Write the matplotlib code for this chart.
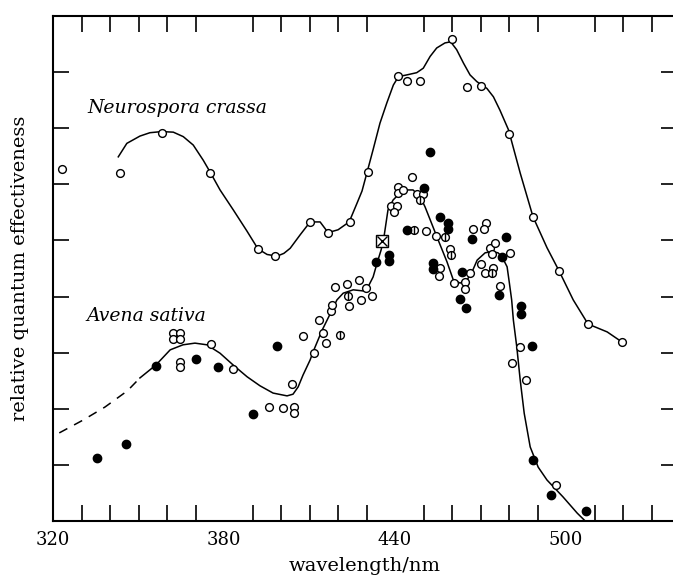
import matplotlib
matplotlib.use('Agg')
import matplotlib.pyplot as plt

plt.rcParams['font.family'] = ['DejaVu Serif']

# Neurospora crassa: measured points and fitted curve
neuro_x = [323.2, 343.5, 358.2, 375.1, 391.9, 397.9, 410.2, 416.5, 424.2, 430.5, 441.1,
           444.2, 448.8, 460.0, 465.3, 470.2, 480.0, 488.4, 497.5, 507.7, 519.6]
neuro_y = [6.27, 6.20, 6.92, 6.20, 4.85, 4.72, 5.33, 5.13, 5.33, 6.22, 7.93,
           7.84, 7.84, 8.59, 7.74, 7.75, 6.90, 5.42, 4.46, 3.51, 3.19]

neuro_curve_x = [342.9, 345.9, 350.5, 354.0, 358.1, 362.2, 365.7, 369.2, 372.7, 375.1, 378.6,
                 383.3, 388.0, 391.9, 395.1, 398.6, 401.0, 403.2, 406.7, 410.2, 413.7,
                 416.5, 420.0, 423.9, 426.7, 428.4, 430.2, 432.3, 434.7, 437.1, 439.4,
                 441.2, 444.1, 447.6, 449.9, 452.3, 454.6, 457.5, 459.5, 461.6, 464.0,
                 466.3, 468.7, 470.4, 472.2, 474.5, 476.8, 479.8, 483.9, 488.4, 493.3,
                 497.5, 502.5, 507.7, 514.4, 519.6]
neuro_curve_y = [6.49, 6.73, 6.86, 6.92, 6.94, 6.93, 6.85, 6.70, 6.43, 6.22, 5.90,
                 5.54, 5.17, 4.85, 4.75, 4.72, 4.77, 4.86, 5.10, 5.33, 5.33,
                 5.14, 5.19, 5.33, 5.67, 5.88, 6.22, 6.62, 7.09, 7.45, 7.77,
                 7.92, 7.95, 7.99, 8.07, 8.28, 8.43, 8.52, 8.54, 8.40, 8.16,
                 7.95, 7.83, 7.77, 7.71, 7.56, 7.32, 6.97, 6.20, 5.42, 4.87,
                 4.46, 3.94, 3.51, 3.37, 3.19]

# Avena sativa: fitted curve (dashed extrapolation + solid part)
avena_dash_x = [322.2, 330.6, 338.2, 346.1, 350.5]
avena_dash_y = [1.57, 1.80, 2.03, 2.32, 2.55]

avena_curve_x = [350.5, 356.1, 361.1, 365.6, 369.8, 374.0, 378.6, 383.2, 388.1, 392.6, 397.2,
                 402.1, 404.2, 406.0, 407.7, 410.2, 411.2, 414.4, 417.9, 419.6, 421.8,
                 425.3, 428.8, 430.5, 432.3, 433.7, 435.1, 436.1, 437.5, 439.3, 441.8,
                 444.2, 446.3, 448.8, 450.5, 452.3, 455.1, 458.2, 460.4, 462.8, 465.3,
                 467.0, 468.8, 471.6, 474.0, 476.1, 477.5, 479.3, 480.1, 480.9, 481.5,
                 482.7, 483.9, 485.3, 487.4, 490.2, 493.3, 498.9, 503.9, 506.7]
avena_curve_y = [2.55, 2.78, 3.05, 3.14, 3.17, 3.14, 2.99, 2.78, 2.57, 2.41, 2.28,
                 2.23, 2.26, 2.39, 2.60, 2.87, 3.01, 3.40, 3.76, 3.94, 4.06,
                 4.12, 4.10, 4.17, 4.35, 4.60, 4.83, 5.06, 5.54, 5.72, 5.85,
                 5.90, 5.90, 5.78, 5.60, 5.37, 5.01, 4.62, 4.30, 4.24, 4.30,
                 4.44, 4.65, 4.78, 4.80, 4.78, 4.71, 4.53, 4.24, 3.94, 3.58,
                 3.10, 2.51, 1.92, 1.32, 0.96, 0.73, 0.43, 0.14, 0.0]

# Avena sativa: filled symbols
avena_filled_x = [335.4, 345.6, 356.1, 370.2, 377.9, 390.2, 398.6, 433.3, 437.9, 437.9, 444.2,
                  450.2, 452.3, 455.8, 458.6, 458.6, 453.3, 453.3, 463.5, 467.0, 478.9,
                  477.5, 476.5, 462.8, 464.9, 484.2, 484.2, 488.1, 488.4, 494.7, 507.0]
avena_filled_y = [1.12, 1.37, 2.76, 2.89, 2.75, 1.91, 3.12, 4.62, 4.74, 4.63, 5.19,
                  5.94, 6.58, 5.42, 5.31, 5.21, 4.60, 4.49, 4.44, 5.03, 5.06,
                  4.71, 4.03, 3.96, 3.80, 3.83, 3.69, 3.12, 1.09, 0.46, 0.18]

# Avena sativa: open symbols
avena_open_x = [362.1, 364.6, 362.1, 364.6, 364.6, 364.6, 375.4, 383.2, 395.8, 400.7, 404.6,
                404.6, 403.9, 407.7, 411.6, 413.3, 414.7, 415.8, 417.5, 417.9, 418.9,
                423.2, 423.9, 427.4, 428.1, 429.8, 431.9, 438.6, 440.7, 439.6, 441.1,
                441.1, 442.8, 446.0, 447.7, 449.8, 450.9, 454.4, 459.3, 460.7, 455.8,
                455.4, 464.6, 464.6, 466.3, 467.4, 471.9, 471.2, 470.2, 471.6, 474.4,
                473.3, 475.1, 474.0, 480.4, 476.8, 483.9, 481.1, 486.0, 496.5]
avena_open_y = [3.35, 3.35, 3.24, 3.24, 2.83, 2.75, 3.16, 2.71, 2.03, 2.01, 2.03,
                1.93, 2.44, 3.30, 2.99, 3.58, 3.35, 3.17, 3.74, 3.85, 4.17,
                4.22, 3.83, 4.30, 3.94, 4.15, 4.01, 5.61, 5.61, 5.51, 5.95,
                5.85, 5.90, 6.13, 5.83, 5.83, 5.17, 5.08, 4.85, 4.24, 4.51,
                4.37, 4.26, 4.14, 4.42, 5.21, 5.31, 5.21, 4.58, 4.42, 4.51,
                4.87, 4.96, 4.76, 4.78, 4.19, 3.10, 2.82, 2.51, 0.64]

# Avena sativa: barred open symbols
avena_bar_x = [423.5, 420.7, 448.8, 446.7, 457.5, 459.6, 474.0]
avena_bar_y = [4.01, 3.32, 5.72, 5.19, 5.06, 4.74, 4.42]

# Avena sativa: crossed square symbol
avena_box_x = [435.4]
avena_box_y = [4.99]

fig = plt.figure(figsize=(6.73, 5.83), dpi=100)
ax = fig.add_axes([53 / 673, 62 / 583, 624 / 673, 505 / 583])

# curves
ax.plot(neuro_curve_x, neuro_curve_y, color='black', lw=1.1, zorder=2)
ax.plot(avena_curve_x, avena_curve_y, color='black', lw=1.1, zorder=2)
ax.plot(avena_dash_x, avena_dash_y, color='black', lw=1.1, dashes=(6, 5), zorder=2)

# symbols
ms = 5.6
ax.plot(neuro_x, neuro_y, 'o', ms=ms, mfc='white', mec='black', mew=1.0, zorder=3)
ax.plot(avena_open_x, avena_open_y, 'o', ms=ms, mfc='white', mec='black', mew=1.0, zorder=3)
ax.plot(avena_bar_x, avena_bar_y, 'o', ms=ms, mfc='white', mec='black', mew=1.0, zorder=3)
ax.plot(avena_bar_x, avena_bar_y, '|', ms=ms, mec='black', mew=1.0, zorder=4)
ax.plot(avena_filled_x, avena_filled_y, 'o', ms=6.0, mfc='black', mec='black', zorder=3)
ax.plot(avena_box_x, avena_box_y, 's', ms=8, mfc='white', mec='black', mew=1.0, zorder=3)
ax.plot(avena_box_x, avena_box_y, 'x', ms=7, mec='black', mew=1.0, zorder=4)

# labels inside the plot
ax.text(331.9, 7.27, 'Neurospora crassa', style='italic', fontsize=13.5, ha='left', va='baseline')
ax.text(331.6, 3.57, 'Avena sativa', style='italic', fontsize=13.5, ha='left', va='baseline')

ax.set_xlim(320, 538.9)
ax.set_ylim(0, 9.0)

ax.set_xticks([320, 380, 440, 500])
ax.set_xticks(list(range(330, 540, 10)), minor=True)
ax.set_yticks([1, 2, 3, 4, 5, 6, 7, 8])
ax.set_yticklabels([])
ax.tick_params(which='both', direction='in', length=11.5, width=1.2,
               top=True, right=True, labelsize=13, pad=7)
ax.tick_params(axis='x', which='major', length=0)

for sp in ax.spines.values():
    sp.set_linewidth(1.5)

ax.set_xlabel('wavelength/nm', fontsize=14, labelpad=6)
ax.set_ylabel('relative quantum effectiveness', fontsize=14, labelpad=10)

fig.savefig('out.png', dpi=100)
